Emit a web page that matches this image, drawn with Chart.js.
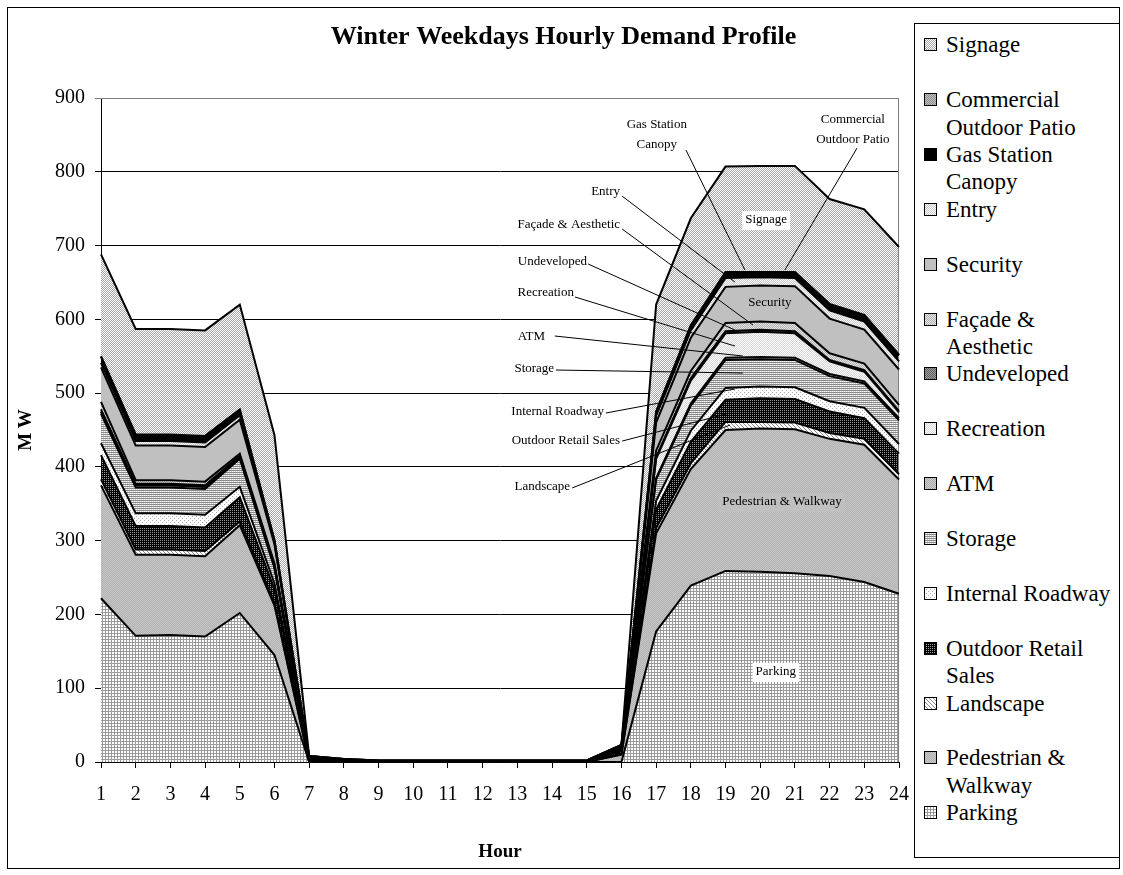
<!DOCTYPE html>
<html><head><meta charset="utf-8">
<script src="https://cdn.jsdelivr.net/npm/chart.js@4.4.1/dist/chart.umd.min.js"></script>
<style>
html,body{margin:0;padding:0;background:#fff;}
#wrap{position:relative;width:1123px;height:875px;overflow:hidden;font-family:"Liberation Serif","Times New Roman",serif;}
#frame{position:absolute;left:7px;top:7px;width:1113px;height:862px;border:1px solid #000;box-sizing:border-box;}
#c{position:absolute;left:0;top:0;}
#legend{position:absolute;left:914px;top:23px;width:206px;height:835px;border:1px solid #000;box-sizing:border-box;background:#fff;}
.item{position:absolute;left:9px;font-size:23px;line-height:27.5px;width:195px;color:#000;}
.sw{position:absolute;left:0;top:7px;width:13px;height:13px;}
.tx{position:absolute;left:22px;width:172px;}
</style></head>
<body><div id="wrap"><div id="frame"></div><canvas id="c" width="1123" height="875"></canvas><div id="legend"></div></div>
<script>
const chartTitle = 'Winter Weekdays Hourly Demand Profile';
const hours = ['1','2','3','4','5','6','7','8','9','10','11','12','13','14','15','16','17','18','19','20','21','22','23','24'];
const yTicks = [0,100,200,300,400,500,600,700,800,900];
const parking        = [222,171,172,170,202,145,0,0,0,0,0,0,0,0,0,0,177,239,259,258,256,252,244,228];
const pedestrian     = [153,110,109,109,119,67,0,0,0,0,0,0,0,0,0,10,133,158,191,194,195,186,186,155];
const landscape      = [8,7,7,7,5,3,0,0,0,0,0,0,0,0,0,1,7,8,11,9,9,8,8,7];
const outdoorRetail  = [33,32,32,32,33,19,2,1,0,0,0,0,0,0,0,4,25,29,30,32,32,29,28,28];
const internalRoad   = [16,17,17,17,14,8,0,0,0,0,0,0,0,0,0,1,12,15,16,16,16,14,14,13];
const storage        = [40,35,35,35,38,21,2,1,0,0,0,0,0,0,0,3,29,34,38,37,37,34,33,32];
const atm            = [3,3,3,3,2,2,0,0,0,0,0,0,0,0,0,0,2,3,3,3,3,3,3,3];
const recreation     = [0,0,0,0,0,0,0,0,0,0,0,0,0,0,0,0,26,31,33,34,33,17,13,8];
const undeveloped    = [3,2,2,2,2,1,0,0,0,0,0,0,0,0,0,0,2,3,3,3,3,2,2,2];
const facade         = [10,5,5,5,3,3,0,0,0,0,0,0,0,0,0,0,9,10,11,11,11,9,9,8];
const security       = [47,47,47,47,46,26,1,0,0,0,0,0,0,0,0,2,38,45,49,49,50,47,46,48];
const entry          = [6,6,6,6,6,2,0,0,0,0,0,0,0,0,0,0,9,10,12,11,11,11,11,11];
const gasCanopy      = [8,8,8,8,7,3,3,2,2,2,2,2,2,2,2,2,5,6,7,6,7,8,8,8];
const commercialPatio= [1,1,1,1,1,1,0,0,0,0,0,0,0,0,0,0,1,1,1,1,1,1,1,1];
const signage        = [138,143,143,143,142,142,0,0,0,0,0,0,0,0,0,0,145,145,143,144,144,142,143,146];

const seriesNames = ['Parking','Pedestrian & Walkway','Landscape','Outdoor Retail Sales','Internal Roadway','Storage','ATM','Recreation','Undeveloped','Façade & Aesthetic','Security','Entry','Gas Station Canopy','Commercial Outdoor Patio','Signage'];
const seriesData = [parking,pedestrian,landscape,outdoorRetail,internalRoad,storage,atm,recreation,undeveloped,facade,security,entry,gasCanopy,commercialPatio,signage];

const FONT = '"Liberation Serif","Times New Roman",serif';
const canvas = document.getElementById('c');
const mainCtx = canvas.getContext('2d');

function tile(w,h,fn){
  const c=document.createElement('canvas');c.width=w;c.height=h;const g=c.getContext('2d');
  for(let y=0;y<h;y++)for(let x=0;x<w;x++){g.fillStyle=fn(x,y);g.fillRect(x,y,1,1);}
  return c;
}
const chk=(a,b)=>tile(2,2,(x,y)=>((x+y)%2===0?a:b));
const tiles = [
  tile(3,3,(x,y)=>(x===0||y===0)?'#9a9a9a':'#ffffff'),          // Parking
  chk('#c6c6c6','#b2b2b2'),                                        // Pedestrian
  tile(4,4,(x,y)=>(x===y)?'#8a8a8a':'#ffffff'),                    // Landscape
  tile(2,2,(x,y)=>(x===0&&y===0)?'#9a9a9a':'#000000'),             // Outdoor Retail
  tile(4,4,(x,y)=>((x===0&&y===0)||(x===2&&y===2))?'#aaaaaa':'#ffffff'), // Internal Roadway
  tile(2,2,(x,y)=>y===0?'#8a8a8a':(x===0?'#ffffff':'#d0d0d0')),     // Storage
  chk('#d0d0d0','#a8a8a8'),                                        // ATM
  chk('#ffffff','#d4d4d4'),                                        // Recreation
  chk('#9a9a9a','#606060'),                                        // Undeveloped
  chk('#e6e6e6','#b0b0b0'),                                        // Facade
  tile(1,1,()=>'#c0c0c0'),                                         // Security
  chk('#ffffff','#c8c8c8'),                                        // Entry
  tile(1,1,()=>'#000000'),                                         // Gas
  chk('#c0c0c0','#8c8c8c'),                                        // Commercial
  chk('#ffffff','#a8a8a8')                                         // Signage
];
const patterns = tiles.map(t=>mainCtx.createPattern(t,'repeat'));

const datasets = seriesNames.map((n,i)=>({
  label:n, data:seriesData[i], backgroundColor:patterns[i], borderColor:'#000', borderWidth:2,
  fill: i===0?'origin':'-1', pointRadius:0, tension:0
}));

// annotations in data units: x = hour, y = MW
const leaderLabels = [
  {text:['Entry'], x:15.96, y:772.6, align:'right', line:[16.02,767,19.27,650.6]},
  {text:['Façade & Aesthetic'], x:15.96, y:727.9, align:'right', line:[16.02,722.4,19.79,592.3]},
  {text:['Undeveloped'], x:15.01, y:677.7, align:'right', line:[15.04,675,19.27,585.5]},
  {text:['Recreation'], x:14.63, y:635.7, align:'right', line:[14.66,630.3,19.27,563.8]},
  {text:['ATM'], x:13.80, y:576, align:'right', line:[14.08,577.4,19.50,550.3]},
  {text:['Storage'], x:14.06, y:532.7, align:'right', line:[14.11,531.3,19.50,527.2]},
  {text:['Internal Roadway'], x:15.50, y:474.8, align:'right', line:[15.55,473,19.27,505.6]},
  {text:['Outdoor Retail Sales'], x:15.96, y:435.5, align:'right', line:[16.02,435,19.13,473]},
  {text:['Landscape'], x:14.52, y:372.7, align:'right', line:[14.58,371.4,19.13,456.8]},
  {text:['Gas Station','Canopy'], x:17.02, y:863.4, align:'center', line:[17.86,829.5,19.56,666.8]},
  {text:['Commercial','Outdoor Patio'], x:22.67, y:870.2, align:'center', line:[22.79,832.1,20.71,666.8]}
];
const boxLabels = [
  {text:'Signage', x:20.17, y:734.6, box:'#ffffff'},
  {text:'Security', x:20.28, y:622.1, box:null},
  {text:'Pedestrian & Walkway', x:20.63, y:352.4, box:'#c0c0c0'},
  {text:'Parking', x:20.45, y:122, box:'#ffffff'}
];

const framePlugin = {
  id:'frame',
  beforeDatasetsDraw(chart){
    const a=chart.chartArea,c=chart.ctx;c.save();c.strokeStyle='#808080';c.lineWidth=1;
    c.beginPath();c.moveTo(a.left,a.top+0.5);c.lineTo(a.right-0.5,a.top+0.5);c.lineTo(a.right-0.5,a.bottom);c.stroke();c.restore();
  },
  afterDraw(chart){
    // chart title, centred on the whole chart object (frame + legend), as in the original
    const c=chart.ctx;c.save();c.font='bold 26px '+FONT;c.fillStyle='#000';c.textAlign='center';c.textBaseline='middle';
    c.fillText(chartTitle,chart.width/2+2,37);c.restore();
  }
};
const annotPlugin = {
  id:'annots',
  afterDatasetsDraw(chart){
    const c=chart.ctx,xs=chart.scales.x,ys=chart.scales.y;
    const px=h=>xs.getPixelForValue(h-1), py=v=>ys.getPixelForValue(v);
    c.save();c.font='13px '+FONT;c.fillStyle='#000';c.strokeStyle='#000';c.lineWidth=1;c.textBaseline='middle';
    leaderLabels.forEach(a=>{
      c.beginPath();c.moveTo(px(a.line[0]),py(a.line[1]));c.lineTo(px(a.line[2]),py(a.line[3]));c.stroke();
      c.textAlign=a.align;
      a.text.forEach((t,k)=>c.fillText(t,px(a.x),py(a.y)+k*20));
    });
    boxLabels.forEach(b=>{
      const w=c.measureText(b.text).width,x=px(b.x),y=py(b.y);
      if(b.box){c.fillStyle=b.box;c.fillRect(x-w/2-3,y-9,w+6,19);}
      c.fillStyle='#000';c.textAlign='center';c.fillText(b.text,x,y);
    });
    c.restore();
  }
};

const chart = new Chart(canvas,{
  type:'line',
  data:{labels:hours,datasets},
  options:{
    responsive:false,animation:false,devicePixelRatio:1,
    layout:{padding:{left:0,right:224,top:98,bottom:0}},
    plugins:{
      legend:{display:false},tooltip:{enabled:false},
      filler:{drawTime:'beforeDatasetsDraw'},
      title:{display:false}
    },
    scales:{
      x:{type:'category',offset:false,
        grid:{display:true,drawOnChartArea:false,drawTicks:true,tickLength:6,color:'#000'},
        border:{color:'#000',width:1},
        ticks:{color:'#000',font:{family:FONT,size:20},padding:15,maxRotation:0,autoSkip:false},
        title:{display:true,text:'Hour',color:'#000',font:{family:FONT,size:19,weight:'bold'},padding:{top:0,bottom:12}},
        afterFit(s){s.height=113;}
      },
      y:{stacked:true,min:0,max:900,
        afterBuildTicks(s){s.ticks=yTicks.map(v=>({value:v}));},
        grid:{color:(ctx)=>ctx.tick&&ctx.tick.value===900?'#808080':'#000',tickLength:6,drawTicks:true},
        border:{color:'#000',width:1},
        ticks:{color:'#000',font:{family:FONT,size:20},padding:10},
        title:{display:true,text:'M W',color:'#000',font:{family:FONT,size:19,weight:'bold'},padding:{top:15,bottom:0}},
        afterFit(s){s.width=101;}
      }
    }
  },
  plugins:[framePlugin,annotPlugin]
});

// legend built from the chart's datasets, top of stack first
const leg=document.getElementById('legend');
const ds=chart.data.datasets.slice().reverse();
const tilesRev=tiles.slice().reverse();
ds.forEach((d,i)=>{
  const it=document.createElement('div');it.className='item';it.style.top=(7.25+i*54.86)+'px';
  const sw=document.createElement('canvas');sw.className='sw';sw.width=13;sw.height=13;
  const g=sw.getContext('2d');g.fillStyle=g.createPattern(tilesRev[i],'repeat');g.fillRect(0,0,13,13);
  g.strokeStyle='#000';g.lineWidth=1;g.strokeRect(0.5,0.5,12,12);
  const tx=document.createElement('div');tx.className='tx';tx.textContent=d.label;
  it.appendChild(sw);it.appendChild(tx);leg.appendChild(it);
});
</script></body></html>
